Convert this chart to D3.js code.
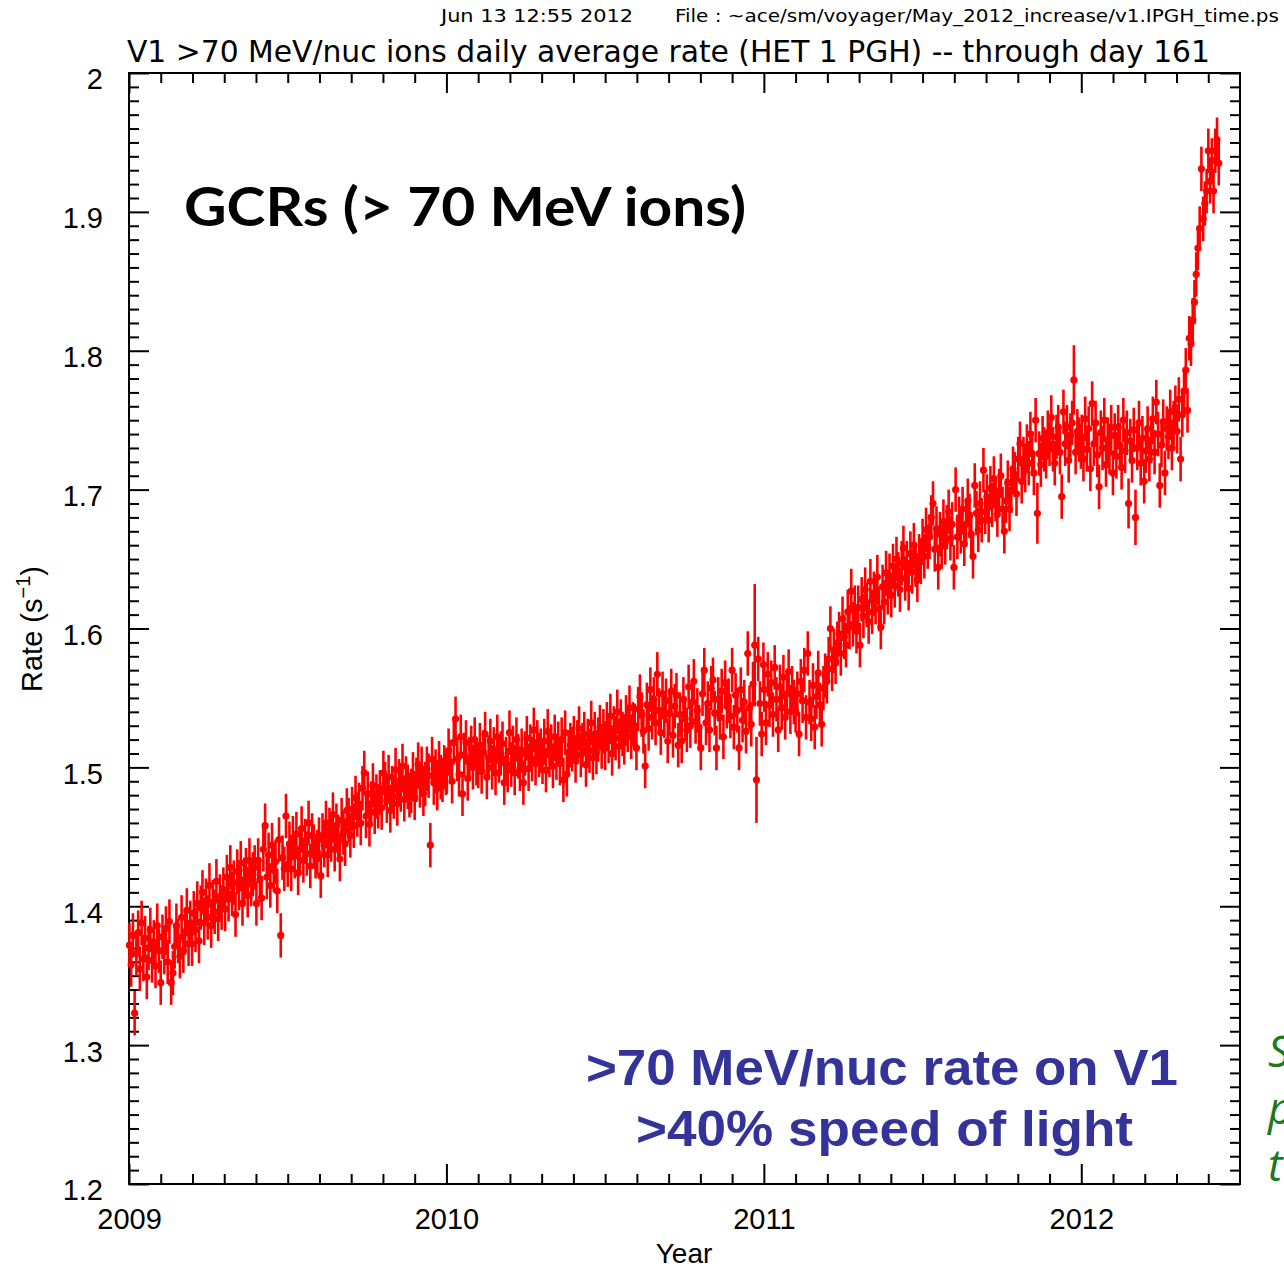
<!DOCTYPE html>
<html>
<head>
<meta charset="utf-8">
<title>V1 >70 MeV/nuc ions daily average rate</title>
<script src="https://cdn.jsdelivr.net/npm/d3@7"></script>
<style>
  html, body { margin: 0; padding: 0; background: #fff; overflow: hidden; }
  svg { display: block; }
</style>
</head>
<body>
<svg id="chart" width="1284" height="1268"></svg>
<script>
// Daily average >70 MeV/nuc ion rate (counts/s), sampled every second day
const rate2009 = [
  1.372, 1.358, 1.379, 1.323, 1.366, 1.381, 1.355, 1.388, 1.362, 1.377, 1.349, 1.370, 1.383, 1.361, 1.374, 1.357, 1.386, 1.368,
  1.345, 1.378, 1.367, 1.384, 1.360, 1.389, 1.345, 1.352, 1.371, 1.386, 1.375, 1.364, 1.392, 1.368, 1.381, 1.397, 1.373, 1.388,
  1.373, 1.395, 1.383, 1.402, 1.375, 1.399, 1.410, 1.388, 1.404, 1.392, 1.415, 1.386, 1.403, 1.396, 1.418, 1.391, 1.407, 1.399,
  1.412, 1.398, 1.421, 1.405, 1.428, 1.409, 1.417, 1.394, 1.425, 1.413, 1.431, 1.402, 1.419, 1.426, 1.408, 1.433, 1.416, 1.423,
  1.428, 1.402, 1.433, 1.419, 1.406, 1.441, 1.458, 1.421, 1.437, 1.415, 1.444, 1.426, 1.432, 1.411, 1.448, 1.379, 1.435, 1.427,
  1.465, 1.430, 1.445, 1.427, 1.449, 1.436, 1.452, 1.424, 1.441, 1.456, 1.433, 1.447, 1.438, 1.460, 1.429, 1.451, 1.443, 1.436,
  1.439, 1.448, 1.422, 1.451, 1.444, 1.460, 1.437, 1.455, 1.448, 1.466, 1.441, 1.458, 1.450, 1.434, 1.462, 1.453, 1.445, 1.469,
  1.462, 1.451, 1.470, 1.458, 1.478, 1.466, 1.473, 1.460, 1.485, 1.496, 1.465, 1.481, 1.459, 1.474, 1.487, 1.468, 1.479, 1.472,
  1.482, 1.471, 1.496, 1.488, 1.476, 1.493, 1.469, 1.485, 1.479, 1.498, 1.474, 1.490, 1.484, 1.501, 1.477, 1.492, 1.486, 1.480,
  1.483, 1.495, 1.478, 1.491, 1.502, 1.487, 1.499, 1.481, 1.488, 1.499, 1.494, 1.444, 1.506, 1.489, 1.497, 1.485, 1.503, 1.493,
  1.491, 1.500, 1.496
];
const rate2010 = [
  1.497, 1.512, 1.504, 1.490, 1.518, 1.535, 1.506, 1.495, 1.522, 1.481, 1.509, 1.518, 1.492, 1.506, 1.514, 1.500, 1.520, 1.503,
  1.501, 1.516, 1.497, 1.511, 1.524, 1.493, 1.507, 1.519, 1.500, 1.513, 1.496, 1.522, 1.505, 1.510, 1.517, 1.489, 1.506, 1.498,
  1.525, 1.502, 1.514, 1.496, 1.520, 1.508, 1.499, 1.512, 1.489, 1.510, 1.521, 1.499, 1.515, 1.506, 1.527, 1.503, 1.518, 1.509,
  1.512, 1.504, 1.519, 1.498, 1.526, 1.509, 1.515, 1.501, 1.522, 1.507, 1.517, 1.503, 1.520, 1.491, 1.525, 1.495, 1.511, 1.516,
  1.513, 1.521, 1.505, 1.518, 1.528, 1.509, 1.516, 1.524, 1.502, 1.519, 1.512, 1.532, 1.507, 1.524, 1.511, 1.520, 1.529, 1.515,
  1.526, 1.514, 1.531, 1.519, 1.537, 1.510, 1.528, 1.521, 1.540, 1.515, 1.533, 1.524, 1.518, 1.536, 1.527, 1.543, 1.522, 1.531,
  1.530, 1.514, 1.542, 1.551, 1.538, 1.526, 1.501, 1.545, 1.528, 1.556, 1.536, 1.549, 1.532, 1.567, 1.541, 1.525, 1.553, 1.537,
  1.548, 1.519, 1.539, 1.555, 1.523, 1.544, 1.552, 1.516, 1.538, 1.519, 1.549, 1.535, 1.527, 1.558, 1.530, 1.547, 1.562, 1.533,
  1.541, 1.529, 1.514, 1.553, 1.570, 1.532, 1.546, 1.527, 1.557, 1.563, 1.539, 1.514, 1.549, 1.536, 1.555, 1.522, 1.561, 1.544,
  1.548, 1.537, 1.570, 1.529, 1.552, 1.541, 1.514, 1.556, 1.534, 1.547, 1.526, 1.582, 1.543, 1.531, 1.560, 1.588, 1.491, 1.578,
  1.546, 1.524, 1.574
];
const rate2011 = [
  1.556, 1.532, 1.567, 1.545, 1.561, 1.538, 1.572, 1.549, 1.527, 1.558, 1.543, 1.565, 1.536, 1.553, 1.569, 1.540, 1.557, 1.547,
  1.541, 1.553, 1.524, 1.562, 1.548, 1.570, 1.536, 1.582, 1.547, 1.535, 1.559, 1.529, 1.551, 1.568, 1.545, 1.531, 1.557, 1.566,
  1.562, 1.578, 1.600, 1.571, 1.584, 1.576, 1.589, 1.596, 1.582, 1.607, 1.594, 1.588, 1.612, 1.601, 1.627, 1.603, 1.615, 1.598,
  1.615, 1.588, 1.621, 1.609, 1.628, 1.617, 1.605, 1.634, 1.612, 1.625, 1.619, 1.637, 1.614, 1.601, 1.630, 1.619, 1.640, 1.626,
  1.638, 1.624, 1.645, 1.631, 1.650, 1.639, 1.628, 1.647, 1.658, 1.636, 1.647, 1.629, 1.654, 1.641, 1.660, 1.646, 1.635, 1.652,
  1.648, 1.663, 1.652, 1.671, 1.659, 1.666, 1.680, 1.690, 1.657, 1.672, 1.644, 1.668, 1.659, 1.677, 1.662, 1.673, 1.684, 1.665,
  1.675, 1.644, 1.700, 1.666, 1.679, 1.670, 1.686, 1.661, 1.675, 1.692, 1.681, 1.668, 1.652, 1.703, 1.683, 1.671, 1.690, 1.678,
  1.714, 1.684, 1.695, 1.678, 1.701, 1.689, 1.708, 1.693, 1.682, 1.699, 1.710, 1.686, 1.670, 1.692, 1.705, 1.686, 1.699, 1.715,
  1.711, 1.697, 1.722, 1.733, 1.706, 1.722, 1.714, 1.731, 1.719, 1.740, 1.726, 1.712, 1.750, 1.683, 1.726, 1.718, 1.737, 1.729,
  1.724, 1.741, 1.733, 1.752, 1.729, 1.719, 1.738, 1.745, 1.727, 1.695, 1.756, 1.733, 1.745, 1.721, 1.739, 1.748, 1.779, 1.727,
  1.742, 1.736, 1.731
];
const rate2012 = [
  1.738, 1.722, 1.751, 1.729, 1.744, 1.715, 1.762, 1.733, 1.748, 1.725,
  1.702, 1.741, 1.730, 1.750, 1.718, 1.736, 1.727, 1.745, 1.712, 1.739,
  1.724, 1.745, 1.732, 1.716, 1.750, 1.728, 1.741, 1.690, 1.735, 1.721,
  1.743, 1.680, 1.730, 1.748, 1.719, 1.737, 1.706, 1.728, 1.744, 1.722,
  1.735, 1.751, 1.727, 1.763, 1.740, 1.703, 1.732, 1.749, 1.712, 1.744,
  1.738, 1.756, 1.730, 1.748, 1.759, 1.742, 1.765, 1.722, 1.754, 1.771,
  1.786, 1.757, 1.809, 1.805, 1.822, 1.835, 1.855, 1.874, 1.888, 1.931,
  1.895, 1.906, 1.915, 1.944, 1.922, 1.937, 1.915, 1.944, 1.952, 1.935
];
const years = [2009, 2010, 2011, 2012];
const sampleStepDays = 2;

// statistical uncertainty (counts/s): typical value, plus days with larger bars
const typicalError = 0.016;
const largeErrors = [
  { year: 2010, index: 177, err: 0.044 },
  { year: 2010, index: 178, err: 0.031 },
  { year: 2011, index: 157, err: 0.022 },
  { year: 2011, index: 178, err: 0.025 },
  { year: 2012, index: 27, err: 0.018 },
  { year: 2012, index: 31, err: 0.02 }
];

// axis ticks and labels
const yearTicks = [2009, 2010, 2011, 2012];
const yearLabels = ["2009", "2010", "2011", "2012"];
const rateTicks = [1.2, 1.3, 1.4, 1.5, 1.6, 1.7, 1.8, 1.9, 2.0];
const rateLabels = ["1.2", "1.3", "1.4", "1.5", "1.6", "1.7", "1.8", "1.9", "2"];

const headerStamp = "Jun 13 12:55 2012";
const headerFile = "File : ~ace/sm/voyager/May_2012_increase/v1.IPGH_time.ps";
const plotTitle = "V1 >70 MeV/nuc ions daily average rate (HET 1 PGH) -- through day 161";
const noteGcr = "GCRs (> 70 MeV ions)";
const noteRate = [">70 MeV/nuc rate on V1", ">40% speed of light"];
const sideNote = ["S", "p", "t"];

// ---------------------------------------------------------------------------
const rateSeries = [rate2009, rate2010, rate2011, rate2012];
const daysInYear = yr => (yr % 4 === 0 ? 366 : 365);

const points = [];
years.forEach((yr, k) => {
  rateSeries[k].forEach((v, i) => {
    const doy = 1 + sampleStepDays * i;
    const big = largeErrors.find(e => e.year === yr && e.index === i);
    points.push({ t: yr + (doy - 0.5) / daysInYear(yr), v, err: big ? big.err : typicalError });
  });
});

const svg = d3.select("#chart");
const plotLeft = 129, plotRight = 1240, plotTop = 73, plotBottom = 1184;

const x = d3.scaleLinear().domain([2009, 2012.5]).range([plotLeft, plotRight]);
const y = d3.scaleLinear().domain([1.2, 2.0]).range([plotBottom, plotTop]);

const minorYears = d3.range(1, 35).map(k => 2009 + k / 10).filter(v => Math.abs(v - Math.round(v)) > 1e-6);
const minorRates = d3.range(1, 80).map(k => 1.2 + k / 100).filter(v => Math.abs(v * 10 - Math.round(v * 10)) > 1e-6);

function styleAxis(g) {
  g.select(".domain").remove();
  g.selectAll("line").attr("stroke", "#000").attr("stroke-width", 2);
  g.selectAll("text").attr("fill", "#000");
}

const labelFont = "'Liberation Sans', Arial, Helvetica, sans-serif";

// bottom axis with year labels
svg.append("g")
  .attr("transform", `translate(0,${plotBottom})`)
  .call(d3.axisBottom(x).tickValues(yearTicks).tickFormat((d, i) => yearLabels[i]).tickSize(-20).tickPadding(24))
  .call(styleAxis)
  .call(g => g.selectAll("text").attr("font-family", labelFont).attr("font-size", 29));
svg.append("g")
  .attr("transform", `translate(0,${plotBottom})`)
  .call(d3.axisBottom(x).tickValues(minorYears).tickFormat("").tickSize(-10))
  .call(styleAxis);

// top axis (ticks only)
svg.append("g")
  .attr("transform", `translate(0,${plotTop})`)
  .call(d3.axisTop(x).tickValues(yearTicks).tickFormat("").tickSize(-20))
  .call(styleAxis);
svg.append("g")
  .attr("transform", `translate(0,${plotTop})`)
  .call(d3.axisTop(x).tickValues(minorYears).tickFormat("").tickSize(-10))
  .call(styleAxis);

// left axis with rate labels
svg.append("g")
  .attr("transform", `translate(${plotLeft},0)`)
  .call(d3.axisLeft(y).tickValues(rateTicks).tickFormat((d, i) => rateLabels[i]).tickSize(-20).tickPadding(26))
  .call(styleAxis)
  .call(g => g.selectAll("text").attr("font-family", labelFont).attr("font-size", 29).attr("dy", "0.55em"));
svg.append("g")
  .attr("transform", `translate(${plotLeft},0)`)
  .call(d3.axisLeft(y).tickValues(minorRates).tickFormat("").tickSize(-10))
  .call(styleAxis);

// right axis (ticks only)
svg.append("g")
  .attr("transform", `translate(${plotRight},0)`)
  .call(d3.axisRight(y).tickValues(rateTicks).tickFormat("").tickSize(-20))
  .call(styleAxis);
svg.append("g")
  .attr("transform", `translate(${plotRight},0)`)
  .call(d3.axisRight(y).tickValues(minorRates).tickFormat("").tickSize(-10))
  .call(styleAxis);

// plot frame
svg.append("rect")
  .attr("x", plotLeft).attr("y", plotTop)
  .attr("width", plotRight - plotLeft).attr("height", plotBottom - plotTop)
  .attr("fill", "none").attr("stroke", "#000").attr("stroke-width", 2);

// data: error bars and dots
const dataLayer = svg.append("g");
dataLayer.selectAll("line.err")
  .data(points)
  .join("line")
  .attr("class", "err")
  .attr("x1", d => x(d.t)).attr("x2", d => x(d.t))
  .attr("y1", d => y(d.v - d.err)).attr("y2", d => y(d.v + d.err))
  .attr("stroke", "#ff0000").attr("stroke-width", 2.6);
dataLayer.selectAll("circle.pt")
  .data(points)
  .join("circle")
  .attr("class", "pt")
  .attr("cx", d => x(d.t)).attr("cy", d => y(d.v))
  .attr("r", 3.6)
  .attr("fill", "#ff0000");

// header and title
const smFont = "'DejaVu Sans Condensed', 'DejaVu Sans', sans-serif";
svg.append("text")
  .attr("x", 441).attr("y", 22)
  .attr("font-family", smFont).attr("font-size", 18)
  .attr("textLength", 192).attr("lengthAdjust", "spacingAndGlyphs")
  .text(headerStamp);
svg.append("text")
  .attr("x", 675).attr("y", 22)
  .attr("font-family", smFont).attr("font-size", 18)
  .attr("textLength", 604).attr("lengthAdjust", "spacingAndGlyphs")
  .text(headerFile);
svg.append("text")
  .attr("x", 127).attr("y", 62)
  .attr("font-family", smFont).attr("font-size", 30)
  .attr("textLength", 1083).attr("lengthAdjust", "spacingAndGlyphs")
  .text(plotTitle);

// axis titles
svg.append("text")
  .attr("x", 684).attr("y", 1263)
  .attr("text-anchor", "middle")
  .attr("font-family", labelFont)
  .attr("font-size", 28)
  .text("Year");

const rateTitle = svg.append("text")
  .attr("transform", "translate(42,629) rotate(-90)")
  .attr("text-anchor", "middle")
  .attr("font-family", labelFont)
  .attr("font-size", 29);
rateTitle.append("tspan").text("Rate  (s");
rateTitle.append("tspan").attr("dy", -12).attr("font-size", 20).text("\u22121");
rateTitle.append("tspan").attr("dy", 12).text(")");

// annotations
svg.append("text")
  .attr("x", 184).attr("y", 226)
  .attr("font-family", "Lato, 'Open Sans', sans-serif")
  .attr("font-weight", 700).attr("font-size", 53)
  .attr("textLength", 562).attr("lengthAdjust", "spacingAndGlyphs")
  .text(noteGcr);

const blueFont = "'Liberation Sans', Arial, Helvetica, sans-serif";
svg.append("text")
  .attr("x", 586).attr("y", 1085)
  .attr("font-family", blueFont).attr("font-weight", 700).attr("font-size", 50)
  .attr("fill", "#333399")
  .attr("textLength", 592).attr("lengthAdjust", "spacingAndGlyphs")
  .text(noteRate[0]);
svg.append("text")
  .attr("x", 636).attr("y", 1146)
  .attr("font-family", blueFont).attr("font-weight", 700).attr("font-size", 50)
  .attr("fill", "#333399")
  .attr("textLength", 497).attr("lengthAdjust", "spacingAndGlyphs")
  .text(noteRate[1]);

// side note running off the right edge
svg.append("g")
  .selectAll("text")
  .data(sideNote)
  .join("text")
  .attr("x", 1268)
  .attr("y", (d, i) => 1067 + i * 57)
  .attr("font-family", "'Open Sans', sans-serif")
  .attr("font-style", "italic")
  .attr("font-size", 44)
  .attr("fill", "#1c7a1c")
  .text(d => d);
</script>
</body>
</html>
